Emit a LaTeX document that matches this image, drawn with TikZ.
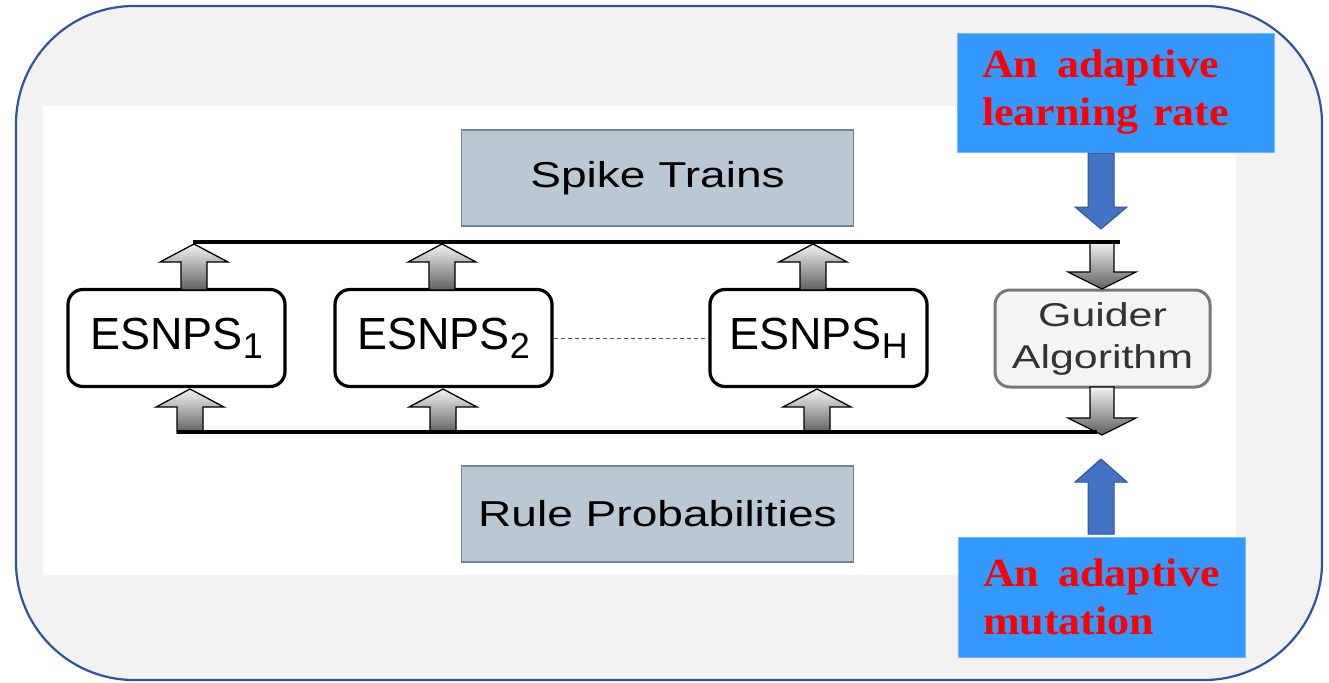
\documentclass[tikz,border=0pt]{standalone}
\usepackage{graphicx}
\usepackage{fontspec}
\setmainfont{Liberation Serif}
\newfontfamily\helv{Liberation Sans}
\usetikzlibrary{calc}
\definecolor{framec}{RGB}{47,85,151}
\definecolor{panelgray}{RGB}{242,242,242}
\definecolor{steelfill}{RGB}{186,200,211}
\definecolor{steeledge}{RGB}{110,131,150}
\definecolor{skyblue}{RGB}{51,153,255}
\definecolor{arrowblue}{RGB}{68,114,196}
\definecolor{arrowblueedge}{RGB}{47,82,143}
\definecolor{guideredge}{RGB}{120,120,120}
\definecolor{guiderfill}{RGB}{244,244,244}
\definecolor{notered}{RGB}{255,0,0}

\newcommand{\grayup}[3]{\shade[top color=gray!10,bottom color=gray!75!black,draw=black,line width=1.3pt,line join=miter]
 (#1-13,#2) -- (#1-13,#3+18) -- (#1-34,#3+18) -- (#1,#3) -- (#1+34,#3+18) -- (#1+13,#3+18) -- (#1+13,#2) -- cycle;}
\newcommand{\graydown}[3]{\shade[top color=gray!10,bottom color=gray!75!black,draw=black,line width=1.3pt,line join=miter]
 (#1-12,#2) -- (#1-12,#3-17) -- (#1-34,#3-17) -- (#1,#3) -- (#1+34,#3-17) -- (#1+12,#3-17) -- (#1+12,#2) -- cycle;}
\newcommand{\bluedown}[3]{\fill[arrowblue,draw=arrowblueedge,line width=1pt]
 (#1-13,#2) -- (#1-13,#3-22) -- (#1-26,#3-22) -- (#1,#3) -- (#1+26,#3-22) -- (#1+13,#3-22) -- (#1+13,#2) -- cycle;}
\newcommand{\blueup}[3]{\fill[arrowblue,draw=arrowblueedge,line width=1pt]
 (#1-13,#2) -- (#1-13,#3+23) -- (#1-26,#3+23) -- (#1,#3) -- (#1+26,#3+23) -- (#1+13,#3+23) -- (#1+13,#2) -- cycle;}

\tikzset{
  trainbox/.style={draw=steeledge, fill=steelfill, line width=1.5pt, minimum width=392pt, minimum height=96pt, inner sep=0pt,
     font=\helv\fontsize{36}{43}\selectfont},
  esnpsbox/.style={draw=black, fill=white, line width=3.2pt, rounded corners=15pt, minimum width=217pt, minimum height=97pt, inner sep=0pt,
     font=\helv\fontsize{45}{54}\selectfont},
  guiderbox/.style={draw=guideredge, fill=guiderfill, line width=3pt, rounded corners=15pt, minimum width=215pt, minimum height=97pt, inner sep=0pt,
     align=center, text=black!80, font=\helv\fontsize{33}{48}\selectfont},
  notebox/.style={fill=skyblue, draw=skyblue!70!white, line width=0.8pt, inner sep=0pt, align=left, text=notered,
     font=\bfseries\fontsize{40}{48}\selectfont},
  busline/.style={line width=4pt, black},
}
\newcommand{\sub}[1]{\raisebox{-9pt}{\fontsize{36}{40}\selectfont #1}}

\begin{document}
\begin{tikzpicture}[x=1pt,y=-1pt]
\useasboundingbox (0,0) rectangle (1329,682);
\fill[white] (0,0) rectangle (1329,682);
% outer frame and inner panel
\draw[framec, line width=2.2pt, fill=panelgray, rounded corners=118pt] (16,6) rectangle (1322,680);
\fill[white] (43,106) rectangle (1236,575);

% boxes
\node[trainbox] (spike) at (657.5,178) {\scalebox{1.28}[1]{Spike Trains}};
\node[trainbox] (rule) at (657.5,514) {\scalebox{1.28}[1]{Rule Probabilities}};
\node[esnpsbox] (e1) at (176.5,338) {ESNPS\sub{1}};
\node[esnpsbox] (e2) at (443.5,338) {ESNPS\sub{2}};
\node[esnpsbox] (eh) at (818.5,338) {ESNPS\sub{H}};
\node[guiderbox] (guider) at (1102.5,338.5) {\scalebox{1.3}[1]{Guider}\\[-6pt]\scalebox{1.3}[1]{Algorithm}};

\draw[black!65, line width=1pt, dash pattern=on 4pt off 3pt] (e2.east) -- (eh.west);

% gray block arrows
\grayup{194}{290}{244}
\grayup{442}{290}{244}
\grayup{813}{290}{244}
\grayup{190}{433}{389}
\grayup{443}{433}{389}
\grayup{817}{433}{389}
\graydown{1102}{242}{289}
\graydown{1102}{387}{435}

% bus lines
\coordinate (tl) at (193,242);
\coordinate (tr) at (1120,242);
\coordinate (bl) at (177,432);
\coordinate (br) at (1097,432);
\draw[busline] (tl) -- (tr);
\draw[busline] (bl) -- (br);

% blue notes
\node[notebox, minimum width=317pt, minimum height=119pt, text width=267pt] (lr) at (1115.5,92.5) {\raisebox{-5pt}{\scalebox{1.1}[1]{An\hspace{4pt} adaptive}}\\\raisebox{-5pt}{\scalebox{1.1}[1]{learning rate}}};
\node[notebox, minimum width=287pt, minimum height=120pt, text width=237pt] (mut) at (1101.5,597) {\scalebox{1.1}[1]{An\hspace{4pt} adaptive}\\\scalebox{1.1}[1]{mutation}};

\bluedown{1101}{153}{229}
\blueup{1101}{534}{459}
\end{tikzpicture}
\end{document}
